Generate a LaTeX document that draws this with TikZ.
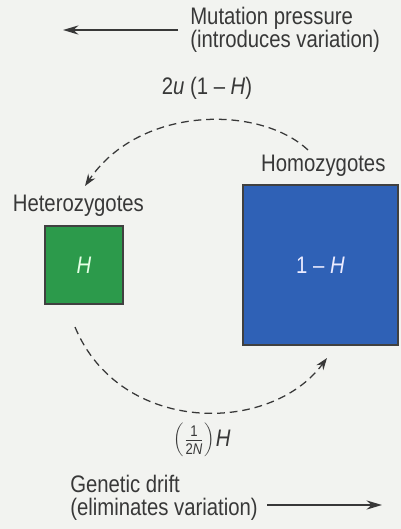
\documentclass[tikz,border=0pt]{standalone}
\usepackage{fontspec}
\setmainfont{Liberation Sans}[FakeStretch=0.85]
\usepackage{tikz}
\usetikzlibrary{positioning,arrows.meta}
\definecolor{paper}{HTML}{F2F3F0}
\definecolor{ink}{HTML}{383838}
\definecolor{hetgreen}{HTML}{2C9A4B}
\definecolor{homblue}{HTML}{2F61B6}

\begin{document}
\begin{tikzpicture}[x=0.025cm, y=-0.025cm, font=\fontsize{17}{16.4}\selectfont, text=ink,
    every node/.style={inner sep=0pt},
    popbox/.style={draw=black!75, line width=0.8pt},
    flow/.style={ink, line width=0.9pt, dash pattern=on 5.5pt off 3.5pt, -{Stealth[length=8.5pt, width=6pt]}},
    pressure/.style={ink, line width=1.2pt, -{Stealth[length=11pt, width=6.5pt]}}]

    \fill[paper] (0,0) rectangle (401,529);
    \useasboundingbox (0,0) rectangle (401,529);

    \node[popbox, fill=hetgreen, minimum width=1.95cm, minimum height=1.95cm, text=green!10] (het) at (84,265) {\itshape H};
    \node[popbox, fill=homblue, minimum width=3.875cm, minimum height=4cm, text=blue!8] (hom) at (320.5,265) {1 -- \textit{H}};
    \node[above=0.22cm of het, xshift=-4pt] (hetlabel) {Heterozygotes};
    \node[above=0.2cm of hom, xshift=2pt] (homlabel) {Homozygotes};

    \node (mutrate) at (207,88) {2\textit{u} (1 -- \textit{H})};
    \node (driftrate) at (202,440) {$\left(\frac{\mbox{\fontsize{11}{11}\selectfont 1}}{\mbox{\fontsize{11}{11}\selectfont 2\itshape N}}\right)$\kern1pt\textit{H}};

    \node[anchor=west, align=left] (mutlabel) at (190,30) {Mutation pressure\\(introduces variation)};
    \node[anchor=west, align=left] (driftlabel) at (70,498) {Genetic drift\\(eliminates variation)};

    \coordinate (mutfrom) at (178,30);
    \coordinate (mutto) at (63,30);
    \coordinate (driftfrom) at (267,505);
    \coordinate (driftto) at (382,505);
    \draw[pressure] (mutfrom) -- (mutto);
    \draw[pressure] (driftfrom) -- (driftto);

    \coordinate (homout) at (308,150);
    \coordinate (hetin) at (85,186);
    \coordinate (hetout) at (75,327);
    \coordinate (homin) at (327,358);
    \draw[flow] (homout) .. controls (260,105) and (140,105) .. (hetin);
    \draw[flow] (hetout) .. controls (120,435) and (270,435) .. (homin);

\end{tikzpicture}
\end{document}
